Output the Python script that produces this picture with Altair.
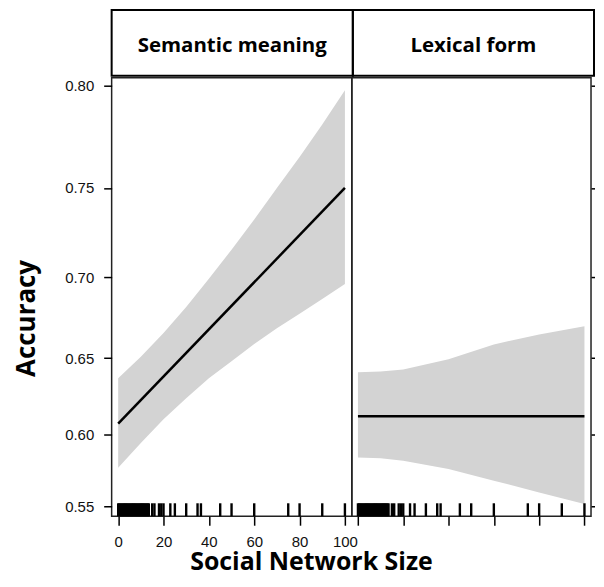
import math
import altair as alt
import pandas as pd

# ---------------- data ----------------
panel_names = ["Semantic meaning", "Lexical form"]

sem_x = [0, 10, 20, 30, 40, 50, 60, 70, 80, 90, 100]
sem_upper = [0.637, 0.651, 0.666, 0.682, 0.699, 0.716, 0.733, 0.750, 0.766, 0.782, 0.798]
sem_lower = [0.577, 0.594, 0.610, 0.624, 0.637, 0.648, 0.659, 0.669, 0.678, 0.687, 0.696]
sem_fit_x = [0, 100]
sem_fit = [0.607, 0.750]

lex_x = [0, 10, 20, 40, 60, 80, 100]
lex_upper = [0.641, 0.6415, 0.6428, 0.6493, 0.6588, 0.6651, 0.6702]
lex_lower = [0.584, 0.5835, 0.5818, 0.5761, 0.5681, 0.560, 0.5519]
lex_fit_x = [0, 100]
lex_fit = [0.612, 0.612]

rug_sizes = [0, 0.5, 1, 1.5, 2, 2.5, 3, 3.5, 4, 4.5, 5, 5.5, 6, 6.5, 7, 7.5,
             8, 8.5, 9, 9.5, 10, 10.5, 11, 11.5, 12, 12.5, 13, 13.5,
             15, 16, 18, 19, 20, 23, 25, 30, 35, 36.5, 45, 50, 60, 75, 80, 90, 100]

y_ticks = [0.55, 0.60, 0.65, 0.70, 0.75, 0.80]
x_ticks = [0, 20, 40, 60, 80, 100]


def logit(p):
    return math.log(p / (1 - p))


y_tick_pos = [logit(v) for v in y_ticks]

LABEL_FONT = "Liberation Sans, Arial"
TITLE_FONT = "Open Sans"
Y_DOMAIN = [0.174, 1.409]


def x_axis(left):
    if left:
        return alt.Axis(values=x_ticks, tickSize=9, tickWidth=1.5, tickColor="black",
                        labelFont=LABEL_FONT, labelFontSize=15, labelColor="#111",
                        labelPadding=9, labelFlush=False, labelOverlap=False,
                        domain=False, grid=False,
                        title="Social Network Size", titleFont=TITLE_FONT,
                        titleFontSize=25, titleFontWeight="bold", titleColor="black",
                        titleX=200, titleY=53, titleAlign="center",
                        titleBaseline="alphabetic")
    return alt.Axis(values=x_ticks, tickSize=9, tickWidth=1.5, tickColor="black",
                    labels=False, domain=False, grid=False, title=None)


def y_axis(left):
    if left:
        return alt.Axis(orient="left", values=y_tick_pos, tickSize=8, tickWidth=1.5,
                        tickColor="black", labelFont=LABEL_FONT, labelFontSize=15,
                        labelColor="#111", labelPadding=10,
                        labelExpr="format(1/(1+exp(-datum.value)), '.2f')",
                        domain=False, grid=False,
                        title="Accuracy", titleFont=TITLE_FONT, titleFontSize=26,
                        titleFontWeight="bold", titleColor="black",
                        titleAngle=270, titleX=-85, titleY=241,
                        titleAlign="center", titleBaseline="middle")
    return alt.Axis(orient="right", values=y_tick_pos, tickSize=3.5, tickWidth=1.5,
                    tickColor="black", labels=False, domain=False, grid=False, title=None)


def panel(bx, bup, blo, fx, fy, left, width, xdom):
    xs = alt.Scale(domain=xdom, nice=False, zero=False)
    ys = alt.Scale(domain=Y_DOMAIN, nice=False, zero=False)
    xa = x_axis(left)
    ya = y_axis(left)
    band_df = pd.DataFrame({"size": bx, "hi": bup, "lo": blo})
    fit_df = pd.DataFrame({"size": fx, "fit": fy})
    rug_df = pd.DataFrame({"size": rug_sizes})

    band = alt.Chart(band_df).transform_calculate(
        hl="log(datum.hi/(1-datum.hi))", ll="log(datum.lo/(1-datum.lo))"
    ).mark_area(color="#d3d3d3", opacity=1).encode(
        x=alt.X("size:Q", scale=xs, axis=xa),
        y=alt.Y("hl:Q", scale=ys, axis=ya),
        y2="ll:Q",
    )
    line = alt.Chart(fit_df).transform_calculate(
        fl="log(datum.fit/(1-datum.fit))"
    ).mark_line(color="black", strokeWidth=2.5).encode(
        x=alt.X("size:Q", scale=xs, axis=xa),
        y=alt.Y("fl:Q", scale=ys, axis=ya),
    )
    rug = alt.Chart(rug_df).mark_rule(color="black", strokeWidth=2.4).encode(
        x=alt.X("size:Q", scale=xs, axis=xa),
        y=alt.value(427),
        y2=alt.value(440),
    )
    return alt.layer(band, line, rug).properties(
        width=width, height=440,
        view=alt.ViewBackground(stroke="#222", strokeWidth=1.5),
    )


def strip(name, width):
    return alt.Chart(pd.DataFrame({"panel": [name]})).mark_text(
        font=TITLE_FONT, fontWeight="bold", fontSize=20.5, color="black",
        baseline="alphabetic", align="center",
    ).encode(
        text="panel:N",
        x=alt.value(width / 2),
        y=alt.value(41.7),
    ).properties(width=width, height=66,
                 view=alt.ViewBackground(stroke="black", strokeWidth=2))


left_panel = panel(sem_x, sem_upper, sem_lower, sem_fit_x, sem_fit, True, 241, [-2.88, 103.05])
right_panel = panel(lex_x, lex_upper, lex_lower, lex_fit_x, lex_fit, False, 240, [-2.7, 102.9])

strips = alt.hconcat(strip(panel_names[0], 242), strip(panel_names[1], 242),
                     spacing=0, bounds="flush")
panels = alt.hconcat(left_panel, right_panel, spacing=0, bounds="flush")

chart = alt.vconcat(strips, panels, spacing=0).properties(
    padding={"left": 5, "top": 0, "right": 0, "bottom": 0},
    background="white",
)

chart.save("out.html", embed_options={"renderer": "svg", "actions": False})
